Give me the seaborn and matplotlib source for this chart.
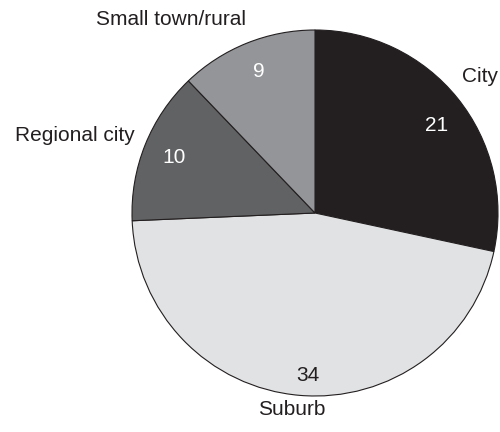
import numpy as np
import matplotlib
matplotlib.use("Agg")
import matplotlib.pyplot as plt
import seaborn as sns

sns.set_theme(style="white")
plt.rcParams["font.family"] = ["Liberation Sans", "DejaVu Sans"]

categories = ["City", "Suburb", "Regional city", "Small town/rural"]
counts = [21, 34, 10, 9]
colors = ["#231f20", "#e1e2e3", "#616264", "#939598"]
value_colors = ["white", "#231f20", "white", "white"]

# label placement (angle in degrees, distance in radii)
label_angle = [39.5, -96.7, 162.1, 126.7]
label_dist = [1.17, 1.08, 1.38, 1.32]
value_angle = [35.8, -92.5, 158.5, 111.7]
value_dist = [0.82, 0.89, 0.83, 0.83]

fig = plt.figure(figsize=(5, 4.32), dpi=100)
cx, cy, r = 315, 432 - 213, 183
ax = fig.add_axes([(cx - r) / 500, (cy - r) / 432, 2 * r / 500, 2 * r / 432])

ax.pie(counts, colors=colors, startangle=90, counterclock=False,
       wedgeprops=dict(edgecolor="#231f20", linewidth=0.8))
ax.set_xlim(-1, 1)
ax.set_ylim(-1, 1)
ax.set_aspect("equal")
ax.axis("off")

for name, a, d in zip(categories, label_angle, label_dist):
    t = np.deg2rad(a)
    ax.text(d * np.cos(t), d * np.sin(t), name, ha="center", va="center",
            fontsize=15, color="#231f20", clip_on=False)

for v, a, d, c in zip(counts, value_angle, value_dist, value_colors):
    t = np.deg2rad(a)
    ax.text(d * np.cos(t), d * np.sin(t), str(v), ha="center", va="center",
            fontsize=15, color=c)

fig.savefig("out.png", dpi=100, facecolor="white")
